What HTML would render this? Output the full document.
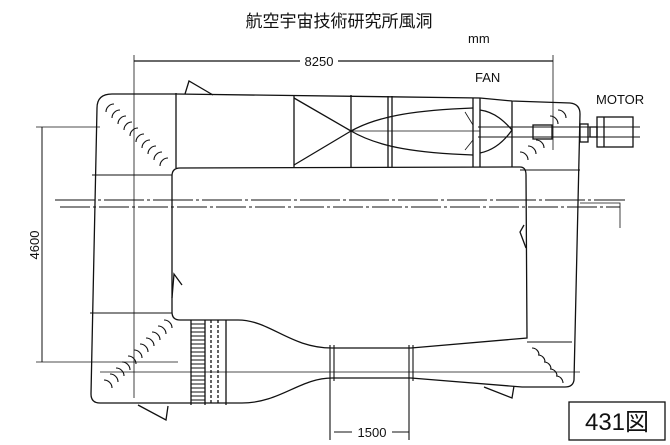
<!DOCTYPE html>
<html><head><meta charset="utf-8"><style>
html,body{margin:0;padding:0;background:#fff;}
svg{display:block;}
text{font-family:"Liberation Sans","Noto Sans CJK JP",sans-serif;fill:#111;}
</style></head><body>
<svg width="670" height="445" viewBox="0 0 670 445" xmlns="http://www.w3.org/2000/svg">
<rect width="670" height="445" fill="#fff"/>
<text x="339" y="27" font-size="17" text-anchor="middle" font-family="'Noto Sans CJK JP',sans-serif">航空宇宙技術研究所風洞</text>
<text x="468" y="43" font-size="13" font-family="'Liberation Serif',serif">mm</text>
<g stroke="#111" fill="none" stroke-width="1.3">
<line x1="134" y1="61" x2="300" y2="61"/><line x1="338" y1="61" x2="553" y2="61"/>
<line x1="134" y1="55" x2="134" y2="398" stroke-width="0.8"/>
<line x1="553" y1="55" x2="553" y2="150" stroke-width="0.8"/>
<line x1="42" y1="127" x2="42" y2="362" stroke-width="1"/>
<line x1="36" y1="127" x2="100" y2="127" stroke-width="0.8"/>
<line x1="36" y1="362" x2="178" y2="362" stroke-width="0.8"/>
<line x1="55" y1="200" x2="625" y2="200" stroke-width="0.9" stroke-dasharray="40 3 3 3"/>
<line x1="60" y1="207" x2="620" y2="207" stroke-width="0.9" stroke-dasharray="30 3 3 3"/>
<polyline points="580,203 620,203 620,228" stroke-width="0.8"/>
<line x1="92" y1="175" x2="172" y2="175" stroke-width="0.9"/>
<line x1="520" y1="170" x2="580" y2="170" stroke-width="0.9"/>
<line x1="90" y1="313" x2="172" y2="313" stroke-width="0.9"/>
<line x1="527" y1="342" x2="572" y2="342" stroke-width="0.9"/>
<line x1="100" y1="372" x2="580" y2="372" stroke-width="0.8"/>
<path d="M97,108 Q97,94 112,94 L176,94 L480,98 L512,101 L570,103 Q580,104 580,114 L574,380 Q573,387 565,387 L522,387 L411,378 L332,378 C300,378 280,403 242,403 L100,403 Q91,403 91,394 Z"/>
<path d="M172,312 L172,176 Q172,168 180,168 L520,167 Q526,167 526,175 L527,338 L411,348 L332,348 C290,348 270,320 238,320 L180,320 Q172,320 172,312"/>
<line x1="176" y1="93" x2="176" y2="168"/>
<line x1="294" y1="96" x2="294" y2="167"/>
<line x1="351" y1="95" x2="351" y2="168"/>
<line x1="388" y1="96" x2="388" y2="167"/><line x1="392" y1="96" x2="392" y2="167"/>
<line x1="473" y1="98" x2="473" y2="167"/><line x1="480" y1="98" x2="480" y2="167"/>
<line x1="512" y1="101" x2="512" y2="167"/>
<line x1="294" y1="98" x2="351" y2="131"/><line x1="294" y1="165" x2="351" y2="131"/>
<path d="M351,131 C380,115 420,110 473,108 M351,131 C380,148 420,153 473,155"/>
<path d="M480,110 C495,112 505,122 512,130 C505,140 495,150 480,153"/>
<line x1="351" y1="131" x2="480" y2="131" stroke-width="0.7"/>
<line x1="465" y1="112" x2="473" y2="125" stroke-width="0.8"/><line x1="465" y1="150" x2="473" y2="140" stroke-width="0.8"/>
<line x1="478" y1="127" x2="640" y2="127" stroke-width="0.9"/>
<line x1="478" y1="137" x2="640" y2="137" stroke-width="0.9"/>
<rect x="533" y="125" width="19" height="14"/>
<rect x="580" y="124" width="8" height="18"/>
<rect x="597" y="117" width="36" height="30"/>
<line x1="604" y1="117" x2="604" y2="147"/>
<rect x="590" y="127" width="7" height="10"/>
<path d="M185,94 L189,81 L213,95"/>
<path d="M172,298 L174,274 L182,285"/>
<path d="M526,248 L520,232 L524,225"/>
<path d="M138,405 L166,420 L168,406"/>
<path d="M484,387 L512,398 L514,386"/>
<line x1="191" y1="320" x2="191" y2="405"/><line x1="205" y1="320" x2="205" y2="405"/>
<line x1="211" y1="320" x2="211" y2="405" stroke-dasharray="3 2"/>
<line x1="218" y1="320" x2="218" y2="405" stroke-dasharray="3 2"/>
<line x1="226" y1="320" x2="226" y2="405"/>
</g>
<g stroke="#111" stroke-width="1">
<line x1="191" y1="324" x2="205" y2="324"/><line x1="191" y1="328" x2="205" y2="328"/><line x1="191" y1="332" x2="205" y2="332"/><line x1="191" y1="336" x2="205" y2="336"/><line x1="191" y1="340" x2="205" y2="340"/><line x1="191" y1="344" x2="205" y2="344"/><line x1="191" y1="348" x2="205" y2="348"/><line x1="191" y1="352" x2="205" y2="352"/><line x1="191" y1="356" x2="205" y2="356"/><line x1="191" y1="360" x2="205" y2="360"/><line x1="191" y1="364" x2="205" y2="364"/><line x1="191" y1="368" x2="205" y2="368"/><line x1="191" y1="372" x2="205" y2="372"/><line x1="191" y1="376" x2="205" y2="376"/><line x1="191" y1="380" x2="205" y2="380"/><line x1="191" y1="384" x2="205" y2="384"/><line x1="191" y1="388" x2="205" y2="388"/><line x1="191" y1="392" x2="205" y2="392"/><line x1="191" y1="396" x2="205" y2="396"/><line x1="191" y1="400" x2="205" y2="400"/>
</g>
<g stroke="#111" fill="none" stroke-width="1.1">
<line x1="330" y1="345" x2="330" y2="440"/><line x1="334" y1="345" x2="334" y2="381"/>
<line x1="409" y1="345" x2="409" y2="440"/><line x1="413" y1="345" x2="413" y2="381"/>
<line x1="334" y1="432" x2="352" y2="432"/><line x1="392" y1="432" x2="409" y2="432"/>
<path d="M106,112 a8,8 0 0 1 8,-8 M112,118 a8,8 0 0 1 8,-8 M118,124 a8,8 0 0 1 8,-8 M124,130 a8,8 0 0 1 8,-8 M130,136 a8,8 0 0 1 8,-8 M136,142 a8,8 0 0 1 8,-8 M142,148 a8,8 0 0 1 8,-8 M148,154 a8,8 0 0 1 8,-8 M154,160 a8,8 0 0 1 8,-8 M160,166 a8,8 0 0 1 8,-8"/>
<path d="M104,380 a8,8 0 0 1 8,8 M110,374 a8,8 0 0 1 8,8 M116,368 a8,8 0 0 1 8,8 M122,362 a8,8 0 0 1 8,8 M128,356 a8,8 0 0 1 8,8 M134,350 a8,8 0 0 1 8,8 M140,344 a8,8 0 0 1 8,8 M146,338 a8,8 0 0 1 8,8 M152,332 a8,8 0 0 1 8,8 M158,326 a8,8 0 0 1 8,8 M164,320 a8,8 0 0 1 8,8"/>
<path d="M566,118 a8,8 0 0 0 -8,-8 M558,124 a8,8 0 0 0 -8,-8 M528,160 a8,8 0 0 0 -8,-8 M536,154 a8,8 0 0 0 -8,-8 M544,148 a8,8 0 0 0 -8,-8"/>
<path d="M532,348 a7,7 0 0 1 7,7 M538,355 a7,7 0 0 1 7,7 M544,362 a7,7 0 0 1 7,7 M550,369 a7,7 0 0 1 7,7 M556,376 a7,7 0 0 1 7,7"/>
</g>
<text x="319" y="66" font-size="13" text-anchor="middle">8250</text>
<text x="475" y="82" font-size="13" font-family="'Liberation Serif',serif">FAN</text>
<text x="596" y="104" font-size="13" font-family="'Liberation Serif',serif">MOTOR</text>
<text transform="translate(39,245) rotate(-90)" font-size="13" text-anchor="middle">4600</text>
<text x="372" y="437" font-size="13" text-anchor="middle">1500</text>
<rect x="569" y="402" width="96" height="38" fill="none" stroke="#111" stroke-width="1.3"/>
<text x="617" y="430" font-size="24" text-anchor="middle" font-family="'Liberation Serif','Noto Serif CJK SC',serif">431図</text>
</svg>
</body></html>
